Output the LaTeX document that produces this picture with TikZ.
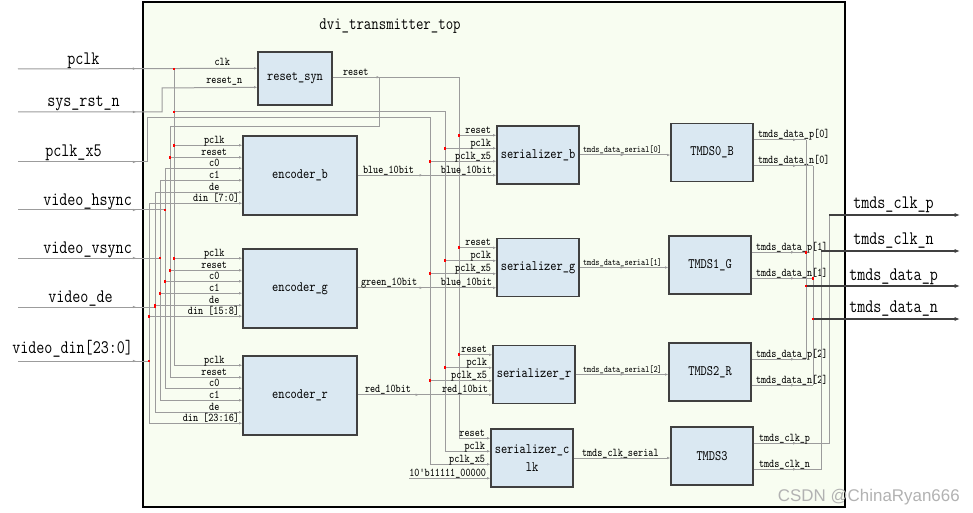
\documentclass[tikz,border=0pt]{standalone}
\usepackage{fontspec}
\setmonofont[FakeStretch=0.82]{Latin Modern Mono}
\newfontfamily\wmfont{Liberation Sans}
\usetikzlibrary{arrows.meta,calc,decorations.markings}
\definecolor{blockfill}{HTML}{DAE8F2}
\definecolor{topfill}{HTML}{F8FDF1}
\definecolor{wirecol}{HTML}{9C9C9C}
\begin{document}
\begin{tikzpicture}[%
    x=0.75pt, y=-0.75pt,
    wire/.style={draw=wirecol, line width=0.75pt},
    portwire/.style={wire, -{Latex[length=2.4pt,width=2pt]}},
    midarrow/.style={postaction={decorate}, decoration={markings, mark=at position #1 with {\arrow{Latex[length=2.4pt,width=2pt]}}}},
    block/.style={rectangle, draw=black!75, line width=1.1pt, fill=blockfill, align=center, inner sep=1pt, font=\ttfamily\fontsize{10.8}{13}\selectfont},
    enc/.style={block, minimum width=85.5pt, minimum height=59.25pt},
    ser/.style={block, minimum width=61.5pt, minimum height=43.5pt},
    jdot/.style={rectangle, fill=red, inner sep=0pt, minimum size=2.2pt},
    portlbl/.style={inner sep=0pt, font=\ttfamily\fontsize{8.9}{10}\selectfont},
    seriallbl/.style={inner sep=0pt, anchor=base west, font=\ttfamily\fontsize{7.15}{8}\selectfont},
    iolbl/.style={inner sep=0pt, anchor=base west, font=\ttfamily\fontsize{14.3}{16}\selectfont},
    outwire/.style={draw=black!75, line width=1.1pt, -{Latex[length=4pt,width=3pt]}}
  ]
  \fill[white] (0,0) rectangle (973,513);
  \useasboundingbox (0,0) rectangle (973,513);
  \node[draw=black, line width=1.5pt, fill=topfill, inner sep=0pt, outer sep=0pt,
        minimum width=526.5pt, minimum height=378.75pt] (frame) at (494,254.5) {};
  \node[font=\ttfamily\fontsize{13.2}{15}\selectfont] (title) at (390,26) {dvi\_transmitter\_top};

  \node[block, minimum width=55.5pt, minimum height=39.75pt] (rs) at (295,78.5) {reset\_syn};
  \node[enc] (eb) at (300,175.5) {encoder\_b};
  \node[enc] (eg) at (300,288.5) {encoder\_g};
  \node[enc] (er) at (300,395.5) {encoder\_r};
  \node[ser] (sb) at (538,155) {serializer\_b};
  \node[ser] (sg) at (538,267.5) {serializer\_g};
  \node[ser] (sr) at (534,374.5) {serializer\_r};
  \node[ser] (sc) at (532,458) {serializer\_c\\lk};
  \node[ser] (t0) at (712,152.5) {TMDS0\_B};
  \node[ser] (t1) at (710,265) {TMDS1\_G};
  \node[ser] (t2) at (710,372) {TMDS2\_R};
  \node[ser] (t3) at (712,456) {TMDS3};

  \coordinate (i-pclk) at (18,69);
  \coordinate (i-rst) at (18,112);
  \coordinate (i-x5) at (18,162);
  \coordinate (i-hs) at (18,210);
  \coordinate (i-vs) at (18,258);
  \coordinate (i-de) at (18,307);
  \coordinate (i-din) at (18,361);
  \coordinate (o-cp) at (960,215);
  \coordinate (o-cn) at (960,251);
  \coordinate (o-dp) at (960,286);
  \coordinate (o-dn) at (960,319);
  \coordinate (x-pclk) at (174,0);
  \coordinate (x-reset) at (170,0);
  \coordinate (x-c0) at (165,0);
  \coordinate (x-c1) at (160,0);
  \coordinate (x-de) at (155,0);
  \coordinate (x-din) at (149,0);
  \coordinate (x-rstn) at (162,88);
  \coordinate (x-x5) at (147,118);
  \coordinate (k-rst) at (379,127);
  \coordinate (k-const) at (409,0);
  \coordinate (s-reset) at (459,0);
  \coordinate (s-pclk) at (445,0);
  \coordinate (s-x5) at (430,0);
  \coordinate (bus-p) at (806,0);
  \coordinate (bus-n) at (813,0);
  \coordinate (bus-cn) at (821,0);
  \coordinate (bus-cp) at (829,0);
  \coordinate (rs-clk) at ($(rs.north west)+(0,17)$);
  \coordinate (rs-rstn) at ($(rs.north west)+(0,36)$);
  \coordinate (rs-out) at ($(rs.north east)+(0,26)$);
  \foreach \e in {eb,eg,er}
    \foreach \p/\d in {pclk/10,reset/22,c0/33,c1/45,de/57,din/68}
      \coordinate (\e-\p) at ($(\e.north west)+(0,\d)$);
  \foreach \s in {sb,sg,sr,sc}
    \foreach \p/\d in {reset/10,pclk/23,x5/36,data/50}
      \coordinate (\s-\p) at ($(\s.north west)+(0,\d)$);
  \foreach \t in {t0,t1,t2,t3} {
    \coordinate (\t-p) at ($(\t.north east)+(0,17)$);
    \coordinate (\t-n) at ($(\t.north east)+(0,43)$);
  }

  \node[iolbl] (l-pclk) at (67,65) {pclk};
  \node[iolbl] (l-rst) at (47,107) {sys\_rst\_n};
  \node[iolbl] (l-x5) at (45,157) {pclk\_x5};
  \node[iolbl] (l-hs) at (43,205) {video\_hsync};
  \node[iolbl] (l-vs) at (43,253) {video\_vsync};
  \node[iolbl] (l-de) at (48,302) {video\_de};
  \node[iolbl] (l-din) at (12,353) {video\_din[23:0]};
  \node[iolbl] (l-cp) at (853,209) {tmds\_clk\_p};
  \node[iolbl] (l-cn) at (853,244) {tmds\_clk\_n};
  \node[iolbl] (l-dp) at (849,280) {tmds\_data\_p};
  \node[iolbl] (l-dn) at (849,312) {tmds\_data\_n};

  \draw[portwire, midarrow=88.5pt] (i-pclk) -- (rs-clk);
  \draw[portwire, midarrow=88.5pt] (i-rst) -| (x-rstn) -- (rs-rstn);
  \draw[portwire, midarrow=88.5pt] (i-x5) -| (x-x5) -| (s-x5 |- sc-x5) -- (sc-x5);
  \draw[wire] (x-pclk |- i-pclk) -- (x-pclk |- eb-pclk);
  \draw[portwire] (x-pclk |- i-rst) -| (s-pclk |- sc-pclk) -- (sc-pclk);
  \draw[portwire, midarrow=35.25pt] (rs-out) -| (s-reset |- sc-reset) -- (sc-reset);
  \draw[wire] (k-rst |- rs-out) |- (x-reset |- k-rst) -- (x-reset |- eb-reset);
  \draw[wire, midarrow=88.5pt] (i-hs) -- (x-c0 |- i-hs);
  \draw[wire, midarrow=88.5pt] (i-vs) -- (x-c1 |- i-vs);
  \draw[wire, midarrow=88.5pt] (i-de) -- (x-de |- i-de);
  \draw[wire, midarrow=88.5pt] (i-din) -- (x-din |- i-din);
  \node[portlbl, anchor=base] (l-clk) at ($(rs-clk)+(-35,-3)$) {clk};
  \node[portlbl, anchor=base] (l-rstn) at ($(rs-rstn)+(-33,-4)$) {reset\_n};
  \node[portlbl, anchor=base west] (l-reset) at ($(rs-out)+(10,-2)$) {reset};

  \foreach \p in {pclk,reset,c0,c1,de,din} {
    \draw[portwire] (x-\p |- eb-\p) -- (eb-\p);
    \draw[portwire] (x-\p |- eg-\p) -- (eg-\p);
    \draw[portwire] (x-\p |- eb-\p) |- (er-\p);
    \node[jdot] (dg-\p) at (x-\p |- eg-\p) {};
  }
  \foreach \e in {eb,eg,er}
    \foreach \p in {pclk,reset,c0,c1,de}
      \node[portlbl, anchor=base] (l-\e-\p) at ($(\e-\p)+(-28,-2)$) {\p};
  \node[portlbl, anchor=base east] (l-eb-din) at ($(eb-din)+(-3,-2)$) {din [7:0]};
  \node[portlbl, anchor=base east] (l-eg-din) at ($(eg-din)+(-3,-2)$) {din [15:8]};
  \node[portlbl, anchor=base east] (l-er-din) at ($(er-din)+(-3,-2)$) {din [23:16]};

  \foreach \s in {sb,sg,sr}
    \foreach \p in {reset,pclk,x5} {
      \draw[portwire] (s-\p |- \s-\p) -- (\s-\p);
      \node[jdot] (d-\s-\p) at (s-\p |- \s-\p) {};
    }
  \foreach \s/\dl in {sb/blue\_10bit, sg/blue\_10bit, sr/red\_10bit, sc/10'b11111\_00000} {
    \node[portlbl, anchor=base east] (l-\s-r) at ($(\s-reset)+(-5,-2)$) {reset};
    \node[portlbl, anchor=base east] (l-\s-c) at ($(\s-pclk)+(-5,-2)$) {pclk};
    \node[portlbl, anchor=base east] (l-\s-x) at ($(\s-x5)+(-5,-2)$) {pclk\_x5};
    \node[portlbl, anchor=base east] (l-\s-d) at ($(\s-data)+(-4,-2)$) {\dl};
  }

  \draw[portwire, midarrow=48.75pt] (eb.east |- sb-data) -- (sb-data);
  \draw[portwire, midarrow=48.75pt] (eg.east |- sg-data) -- (sg-data);
  \draw[portwire, midarrow=45.75pt] (er.east |- sr-data) -- (sr-data);
  \draw[portwire] (k-const |- sc-data) -- (sc-data);
  \node[portlbl, anchor=base west] (l-blue) at ($(eb.east |- sb-data)+(5,-2)$) {blue\_10bit};
  \node[portlbl, anchor=base west] (l-green) at ($(eg.east |- sg-data)+(3,-2)$) {green\_10bit};
  \node[portlbl, anchor=base west] (l-red) at ($(er.east |- sr-data)+(7,-2)$) {red\_10bit};

  \draw[portwire, midarrow=33pt] (sb.east) -- (sb.east -| t0.west);
  \draw[portwire, midarrow=33pt] (sg.east) -- (sg.east -| t1.west);
  \draw[portwire, midarrow=36pt] (sr.east) -- (sr.east -| t2.west);
  \draw[portwire, midarrow=37.5pt] (sc.east) -- (sc.east -| t3.west);
  \node[seriallbl] (l-ser0) at ($(sb.east)+(3,-2)$) {tmds\_data\_serial[0]};
  \node[seriallbl] (l-ser1) at ($(sg.east)+(3,-2)$) {tmds\_data\_serial[1]};
  \node[seriallbl] (l-ser2) at ($(sr.east)+(7,-2)$) {tmds\_data\_serial[2]};
  \node[portlbl, anchor=base west] (l-serc) at ($(sc.east)+(8,-2)$) {tmds\_clk\_serial};

  \foreach \t/\i in {t0/0,t1/1,t2/2} {
    \draw[wire, midarrow=32pt] (\t-p) -- (bus-p |- \t-p);
    \draw[wire, midarrow=32pt] (\t-n) -- (bus-n |- \t-n);
    \node[portlbl, anchor=base west] (l-\t-p) at ($(\t-p)+(4,-2)$) {tmds\_data\_p[\i]};
    \node[portlbl, anchor=base west] (l-\t-n) at ($(\t-n)+(4,-2)$) {tmds\_data\_n[\i]};
  }
  \draw[wire] (bus-p |- t0-p) -- (bus-p |- t2-p);
  \draw[wire] (bus-n |- t0-n) -- (bus-n |- t2-n);
  \draw[wire, midarrow=32pt] (t3-p) -| (bus-cp |- o-cp);
  \draw[wire, midarrow=32pt] (t3-n) -| (bus-cn |- o-cn);
  \node[portlbl, anchor=base west] (l-t3-p) at ($(t3-p)+(5,-2)$) {tmds\_clk\_p};
  \node[portlbl, anchor=base west] (l-t3-n) at ($(t3-n)+(5,-2)$) {tmds\_clk\_n};
  \draw[outwire] (bus-cp |- o-cp) -- (o-cp);
  \draw[outwire] (bus-cn |- o-cn) -- (o-cn);
  \draw[outwire] (bus-p |- o-dp) -- (o-dp);
  \draw[outwire] (bus-n |- o-dn) -- (o-dn);

  \node[jdot] (d-pclk0) at (x-pclk |- i-pclk) {};
  \node[jdot] (d-pclk1) at (x-pclk |- i-rst) {};
  \node[jdot] (db-pclk) at (x-pclk |- eb-pclk) {};
  \node[jdot] (db-reset) at (x-reset |- eb-reset) {};
  \node[jdot] (d-hs) at (x-c0 |- i-hs) {};
  \node[jdot] (d-vs) at (x-c1 |- i-vs) {};
  \node[jdot] (d-de) at (x-de |- i-de) {};
  \node[jdot] (d-din) at (x-din |- i-din) {};
  \node[jdot] (d-p1) at (bus-p |- t1-p) {};
  \node[jdot] (d-n1) at (bus-n |- t1-n) {};
  \node[jdot] (d-dp) at (bus-p |- o-dp) {};
  \node[jdot] (d-dn) at (bus-n |- o-dn) {};

  \node[anchor=base east, inner sep=0pt, text=black!30, font=\wmfont\fontsize{12.7}{14}\selectfont] (wm) at (960,501) {CSDN @ChinaRyan666};
\end{tikzpicture}
\end{document}
